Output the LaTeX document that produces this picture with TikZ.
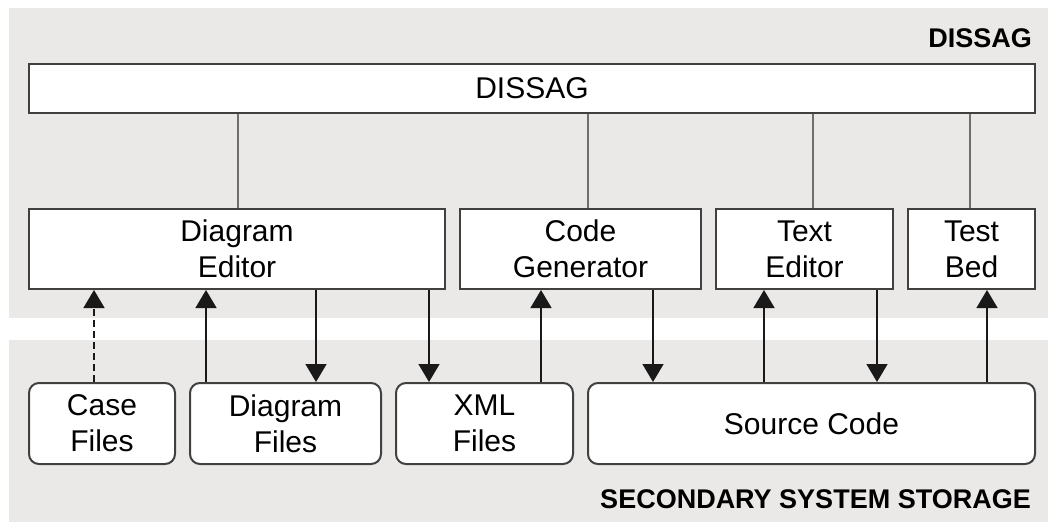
\documentclass[tikz,border=0pt]{standalone}
\usepackage{fontspec}
\setmainfont{Liberation Sans}
\usetikzlibrary{arrows.meta}
\definecolor{bandgray}{RGB}{234,233,231}
\definecolor{boxline}{RGB}{64,64,64}
\definecolor{linkgray}{RGB}{110,110,110}
\definecolor{arrowblack}{RGB}{25,25,25}
\begin{document}
\begin{tikzpicture}[x=1pt,y=-1pt,
  band/.style={fill=bandgray,draw=none},
  tool/.style={draw=boxline,line width=2pt,fill=white,inner sep=0pt,align=center,
    font=\fontsize{30}{36}\selectfont},
  twoline/.style={execute at begin node={\rule{0pt}{26.5pt}}},
  store/.style={tool,rounded corners=10pt},
  link/.style={draw=linkgray,line width=1.6pt},
  flow/.style={draw=arrowblack,line width=1.5pt,
    -{Triangle[width=21pt,length=18pt]}},
  dflow/.style={flow,dash pattern=on 7pt off 4pt},
  title/.style={font=\fontsize{27}{32}\selectfont\bfseries,text=black,inner sep=0pt}]
\useasboundingbox[fill=white] (0,0) rectangle (1048,522);
\fill[band] (9,8) rectangle (1048,318);
\fill[band] (9,340) rectangle (1048,522);

\node[title,anchor=base east] (lblD) at (1032,47) {DISSAG};
\node[title,anchor=base east] (lblS) at (1031,508) {SECONDARY SYSTEM STORAGE};

\node[tool,minimum width=1006pt,minimum height=49pt] (bar) at (532,88.5) {DISSAG};

\node[tool,twoline,minimum width=416pt,minimum height=80pt] (DE) at (237,249) {Diagram\\Editor};
\node[tool,twoline,minimum width=241pt,minimum height=80pt] (CG) at (580.5,249) {Code\\Generator};
\node[tool,twoline,minimum width=177pt,minimum height=80pt] (TE) at (804.5,249) {Text\\Editor};
\node[tool,twoline,minimum width=127pt,minimum height=80pt] (TB) at (971.5,249) {Test\\Bed};

\node[store,twoline,minimum width=146pt,minimum height=81pt] (CF) at (102,423.5) {Case\\Files};
\node[store,twoline,minimum width=191pt,minimum height=81pt] (DF) at (285.5,423.5) {Diagram\\Files};
\node[store,twoline,minimum width=177pt,minimum height=81pt] (XF) at (484.5,423.5) {XML\\Files};
\node[store,minimum width=447pt,minimum height=81pt] (SC) at (811.5,423.5) {Source Code};

% links from DISSAG bar
\draw[link] ([xshift=1pt]DE.north) -- ([xshift=1pt]DE.north |- bar.south);
\draw[link] ([xshift=7.5pt]CG.north) -- ([xshift=7.5pt]CG.north |- bar.south);
\draw[link] ([xshift=8.5pt]TE.north) -- ([xshift=8.5pt]TE.north |- bar.south);
\draw[link] ([xshift=-1.5pt]TB.north) -- ([xshift=-1.5pt]TB.north |- bar.south);

% data flows
\draw[dflow] ([xshift=-8pt]CF.north) -- ([xshift=-8pt]CF.north |- DE.south);
\draw[flow] ([xshift=-79.5pt]DF.north) -- ([xshift=-79.5pt]DF.north |- DE.south);
\draw[flow] ([xshift=30.5pt]DF.north |- DE.south) -- ([xshift=30.5pt]DF.north);
\draw[flow] ([xshift=-55.5pt]XF.north |- DE.south) -- ([xshift=-55.5pt]XF.north);
\draw[flow] ([xshift=56.5pt]XF.north) -- ([xshift=56.5pt]XF.north |- CG.south);
\draw[flow] ([xshift=-158.5pt]SC.north |- CG.south) -- ([xshift=-158.5pt]SC.north);
\draw[flow] ([xshift=-47.5pt]SC.north) -- ([xshift=-47.5pt]SC.north |- TE.south);
\draw[flow] ([xshift=65.5pt]SC.north |- TE.south) -- ([xshift=65.5pt]SC.north);
\draw[flow] ([xshift=175.5pt]SC.north) -- ([xshift=175.5pt]SC.north |- TB.south);
\end{tikzpicture}
\end{document}
